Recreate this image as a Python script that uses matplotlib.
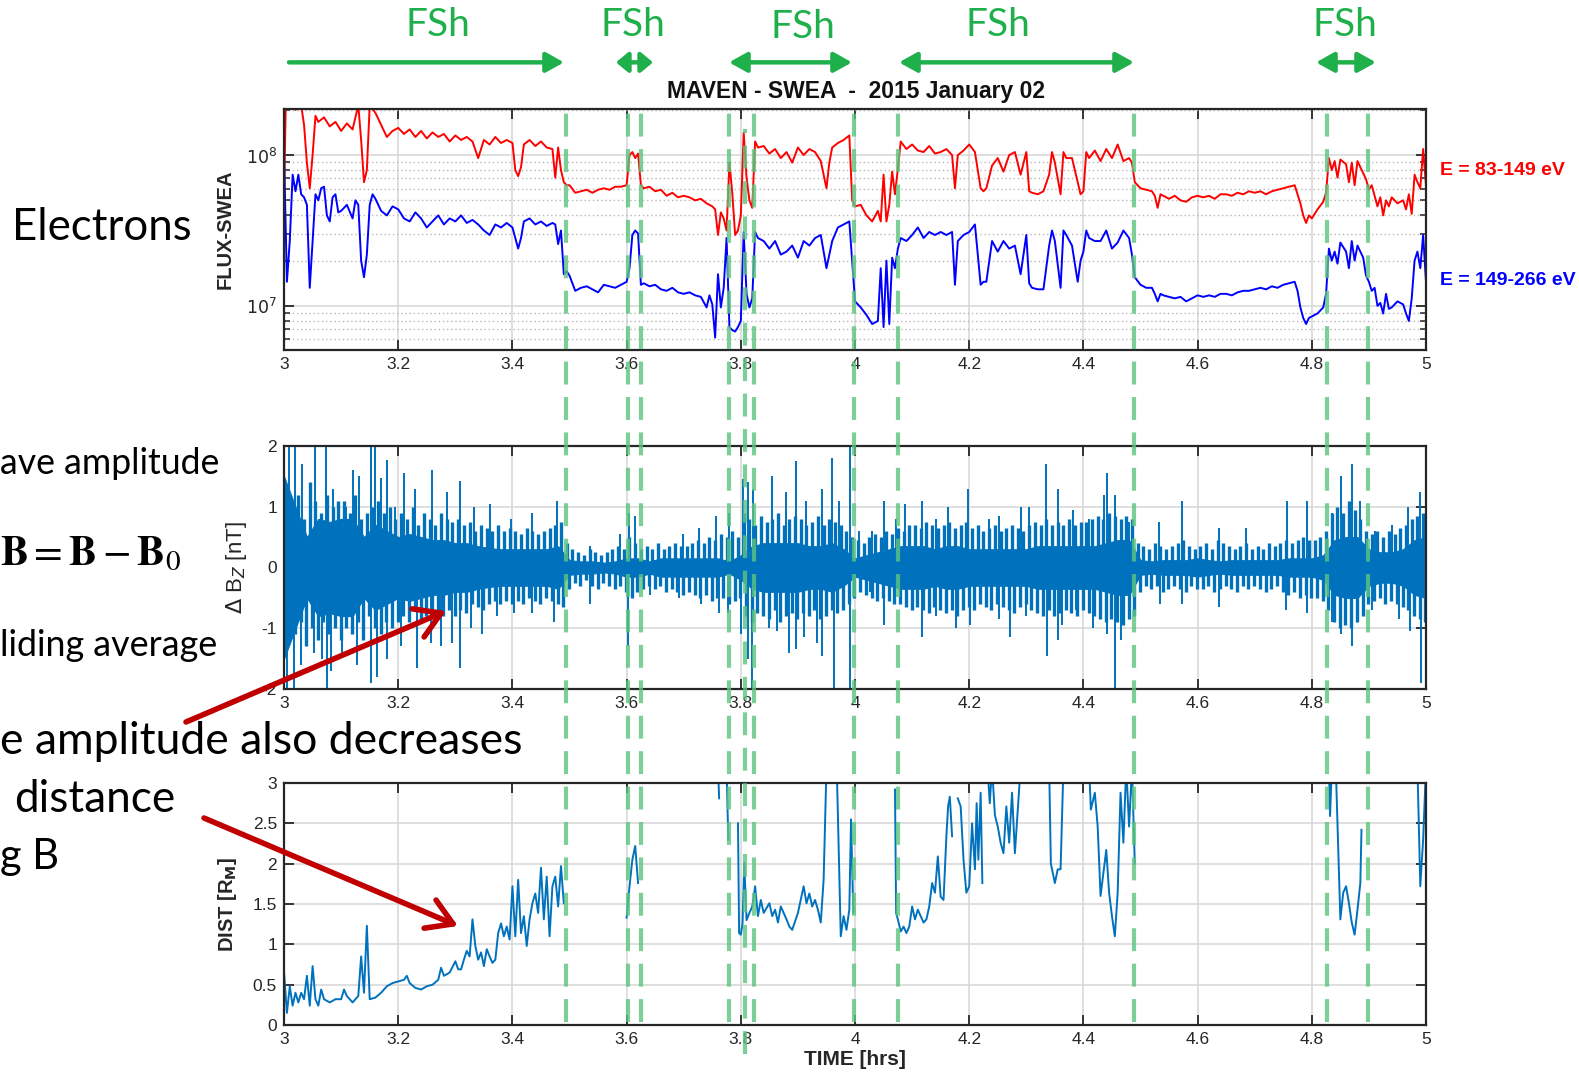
import matplotlib
matplotlib.use('Agg')
import matplotlib.pyplot as plt
import matplotlib.transforms as mtransforms
from matplotlib.lines import Line2D
from matplotlib.patches import FancyArrowPatch
import numpy as np

plt.rcParams['font.family'] = ['Liberation Sans', 'DejaVu Sans']
plt.rcParams['mathtext.fontset'] = 'dejavusans'
nan = float('nan')

# ---------------- data ----------------
# SWEA flux, log10 values, two energy channels
t_red = [3.000, 3.003, 3.01, 3.02, 3.03, 3.035, 3.04, 3.045, 3.05, 3.055, 3.06, 3.07, 3.08, 3.09,
         3.10, 3.11, 3.12, 3.13, 3.135, 3.14, 3.145, 3.15, 3.16, 3.17, 3.18, 3.19, 3.20, 3.21,
         3.22, 3.23, 3.24, 3.25, 3.26, 3.27, 3.28, 3.29, 3.30, 3.31, 3.32, 3.33, 3.34, 3.35,
         3.36, 3.37, 3.38, 3.39, 3.40, 3.405, 3.41, 3.415, 3.42, 3.43, 3.44, 3.45, 3.46, 3.47,
         3.475, 3.48, 3.485, 3.49, 3.495, 3.50, 3.51, 3.52, 3.53, 3.54, 3.55, 3.56, 3.57, 3.58,
         3.59, 3.60, 3.605, 3.61, 3.615, 3.62, 3.625, 3.63, 3.64, 3.65, 3.66, 3.67, 3.68, 3.69,
         3.70, 3.71, 3.72, 3.73, 3.74, 3.75, 3.755, 3.76, 3.765, 3.77, 3.775, 3.78, 3.785, 3.79,
         3.795, 3.80, 3.805, 3.81, 3.815, 3.82, 3.825, 3.83, 3.84, 3.85, 3.86, 3.87, 3.88, 3.89,
         3.90, 3.91, 3.92, 3.93, 3.94, 3.95, 3.955, 3.96, 3.97, 3.98, 3.99, 3.995, 4.00, 4.01,
         4.02, 4.03, 4.04, 4.045, 4.05, 4.055, 4.06, 4.065, 4.07, 4.075, 4.08, 4.09, 4.10, 4.11,
         4.12, 4.13, 4.14, 4.15, 4.16, 4.17, 4.175, 4.18, 4.19, 4.20, 4.21, 4.22, 4.225, 4.23,
         4.24, 4.25, 4.26, 4.27, 4.28, 4.29, 4.30, 4.305, 4.31, 4.32, 4.33, 4.34, 4.345, 4.35,
         4.36, 4.365, 4.37, 4.38, 4.39, 4.395, 4.40, 4.405, 4.41, 4.42, 4.43, 4.44, 4.45, 4.46,
         4.47, 4.48, 4.485, 4.49, 4.50, 4.51, 4.52, 4.525, 4.53, 4.535, 4.54, 4.55, 4.56, 4.57,
         4.58, 4.59, 4.60, 4.61, 4.62, 4.63, 4.64, 4.65, 4.66, 4.67, 4.68, 4.69, 4.70, 4.71,
         4.72, 4.73, 4.74, 4.75, 4.76, 4.77, 4.775, 4.78, 4.785, 4.79, 4.795, 4.80, 4.81, 4.82,
         4.825, 4.83, 4.835, 4.84, 4.845, 4.85, 4.86, 4.865, 4.87, 4.875, 4.88, 4.89, 4.895, 4.90,
         4.905, 4.91, 4.915, 4.92, 4.925, 4.93, 4.935, 4.94, 4.95, 4.96, 4.965, 4.97, 4.975, 4.98,
         4.985, 4.99, 4.995, 5.00]
lf_red = [7.74, 8.33, 8.34, 8.30, 8.33, 8.20, 7.95, 7.78, 8.00, 8.26, 8.22, 8.25, 8.19, 8.22,
          8.16, 8.21, 8.17, 8.33, 8.10, 7.82, 7.90, 8.33, 8.28, 8.20, 8.12, 8.16, 8.18, 8.14,
          8.17, 8.12, 8.16, 8.11, 8.15, 8.12, 8.14, 8.09, 8.13, 8.10, 8.12, 8.09, 7.98, 8.10,
          8.07, 8.12, 8.08, 8.10, 8.08, 7.90, 7.86, 7.92, 8.07, 8.10, 8.06, 8.09, 8.05, 8.04,
          7.85, 8.05, 7.90, 7.82, 7.80, 7.80, 7.75, 7.76, 7.77, 7.75, 7.77, 7.78, 7.77, 7.79,
          7.79, 7.80, 8.00, 8.02, 7.98, 8.01, 7.80, 7.78, 7.79, 7.76, 7.77, 7.73, 7.75, 7.72,
          7.73, 7.72, 7.70, 7.71, 7.68, 7.66, 7.64, 7.47, 7.62, 7.58, 7.50, 7.95, 7.75, 7.47,
          7.50, 7.60, 8.15, 7.85, 7.70, 7.65, 8.09, 8.05, 8.06, 8.01, 8.04, 7.98, 8.02, 7.95,
          8.05, 8.00, 8.04, 8.02, 7.96, 7.78, 7.95, 8.05, 8.08, 8.10, 8.13, 7.70, 7.66, 7.67,
          7.60, 7.56, 7.63, 7.56, 7.87, 7.56, 7.67, 7.89, 7.74, 7.91, 8.09, 8.04, 8.07, 8.03,
          8.02, 8.06, 8.01, 8.02, 8.04, 8.00, 7.78, 8.00, 8.03, 8.07, 8.02, 7.78, 7.76, 7.78,
          7.93, 7.98, 7.89, 8.00, 8.02, 7.87, 8.02, 7.76, 7.75, 7.74, 7.76, 7.87, 8.02, 7.95,
          7.74, 8.02, 7.98, 7.98, 7.82, 7.74, 7.76, 8.02, 7.98, 8.03, 7.96, 8.04, 7.98, 8.07,
          7.96, 7.98, 7.95, 7.82, 7.78, 7.77, 7.76, 7.73, 7.65, 7.74, 7.73, 7.71, 7.73, 7.70,
          7.69, 7.72, 7.73, 7.72, 7.73, 7.71, 7.74, 7.74, 7.73, 7.75, 7.74, 7.76, 7.75, 7.76,
          7.74, 7.76, 7.77, 7.78, 7.79, 7.80, 7.74, 7.68, 7.60, 7.55, 7.60, 7.58, 7.64, 7.69,
          7.75, 7.98, 7.90, 7.96, 7.85, 7.97, 7.94, 7.82, 7.95, 7.80, 7.96, 7.88, 7.84, 7.77,
          7.80, 7.73, 7.66, 7.72, 7.60, 7.70, 7.66, 7.72, 7.68, 7.70, 7.64, 7.74, 7.61, 7.87,
          7.82, 7.78, 8.04, 7.80]

t_blue = [3.000, 3.005, 3.01, 3.015, 3.02, 3.025, 3.03, 3.035, 3.04, 3.045, 3.05, 3.055, 3.06,
          3.065, 3.07, 3.075, 3.08, 3.085, 3.09, 3.095, 3.10, 3.11, 3.12, 3.125, 3.13, 3.135,
          3.14, 3.145, 3.15, 3.155, 3.16, 3.17, 3.18, 3.19, 3.20, 3.21, 3.22, 3.23, 3.24, 3.25,
          3.26, 3.27, 3.28, 3.29, 3.30, 3.31, 3.32, 3.33, 3.34, 3.35, 3.36, 3.37, 3.38, 3.39,
          3.40, 3.405, 3.41, 3.415, 3.42, 3.43, 3.44, 3.45, 3.46, 3.47, 3.475, 3.48, 3.485, 3.49,
          3.495, 3.50, 3.51, 3.52, 3.53, 3.54, 3.55, 3.56, 3.57, 3.58, 3.59, 3.60, 3.605, 3.61,
          3.615, 3.62, 3.625, 3.63, 3.64, 3.65, 3.66, 3.67, 3.68, 3.69, 3.70, 3.71, 3.72, 3.73,
          3.74, 3.745, 3.75, 3.755, 3.76, 3.765, 3.77, 3.775, 3.78, 3.785, 3.79, 3.795, 3.80,
          3.805, 3.81, 3.815, 3.82, 3.825, 3.83, 3.84, 3.85, 3.86, 3.87, 3.88, 3.89, 3.90, 3.91,
          3.92, 3.93, 3.94, 3.95, 3.96, 3.97, 3.98, 3.99, 3.995, 4.00, 4.01, 4.02, 4.03, 4.04,
          4.045, 4.05, 4.055, 4.06, 4.065, 4.07, 4.075, 4.08, 4.09, 4.10, 4.11, 4.12, 4.13, 4.14,
          4.15, 4.16, 4.17, 4.175, 4.18, 4.19, 4.20, 4.21, 4.22, 4.225, 4.23, 4.24, 4.25, 4.26,
          4.27, 4.28, 4.29, 4.30, 4.305, 4.31, 4.32, 4.33, 4.34, 4.345, 4.35, 4.36, 4.365, 4.37,
          4.38, 4.39, 4.395, 4.40, 4.405, 4.41, 4.42, 4.43, 4.44, 4.45, 4.46, 4.47, 4.48, 4.485,
          4.49, 4.50, 4.51, 4.52, 4.525, 4.53, 4.535, 4.54, 4.55, 4.56, 4.57, 4.58, 4.59, 4.60,
          4.61, 4.62, 4.63, 4.64, 4.65, 4.66, 4.67, 4.68, 4.69, 4.70, 4.71, 4.72, 4.73, 4.74,
          4.75, 4.76, 4.77, 4.775, 4.78, 4.785, 4.79, 4.795, 4.80, 4.81, 4.82, 4.825, 4.83, 4.835,
          4.84, 4.845, 4.85, 4.86, 4.865, 4.87, 4.875, 4.88, 4.89, 4.895, 4.90, 4.905, 4.91,
          4.915, 4.92, 4.925, 4.93, 4.935, 4.94, 4.95, 4.96, 4.965, 4.97, 4.975, 4.98, 4.985,
          4.99, 4.995, 5.00]
lf_blue = [8.00, 7.16, 7.43, 7.87, 7.76, 7.87, 7.74, 7.72, 7.67, 7.12, 7.43, 7.74, 7.70,
           7.78, 7.79, 7.60, 7.56, 7.72, 7.74, 7.62, 7.63, 7.67, 7.58, 7.70, 7.67, 7.30,
           7.19, 7.34, 7.67, 7.74, 7.71, 7.63, 7.60, 7.66, 7.64, 7.58, 7.56, 7.62, 7.58, 7.52,
           7.56, 7.60, 7.54, 7.58, 7.56, 7.60, 7.55, 7.57, 7.54, 7.50, 7.47, 7.54, 7.52, 7.55,
           7.52, 7.45, 7.38, 7.45, 7.56, 7.58, 7.54, 7.56, 7.53, 7.55, 7.54, 7.41, 7.50, 7.21,
           7.23, 7.20, 7.10, 7.12, 7.13, 7.11, 7.09, 7.14, 7.13, 7.12, 7.14, 7.16, 7.25, 7.47,
           7.50, 7.48, 7.14, 7.15, 7.13, 7.14, 7.11, 7.10, 7.12, 7.09, 7.08, 7.09, 7.07, 7.06,
           6.99, 7.07, 7.01, 6.79, 7.21, 6.99, 7.12, 7.45, 6.86, 6.84, 6.83, 6.86, 6.90,
           7.49, 7.08, 6.99, 7.05, 7.49, 7.45, 7.43, 7.38, 7.43, 7.34, 7.36, 7.40, 7.32, 7.43,
           7.40, 7.45, 7.47, 7.25, 7.43, 7.52, 7.54, 7.56, 7.30, 7.03, 6.99, 6.94, 6.88, 6.90,
           7.25, 6.86, 7.30, 6.88, 7.32, 7.25, 7.38, 7.45, 7.43, 7.47, 7.52, 7.45, 7.49, 7.47,
           7.49, 7.47, 7.49, 7.14, 7.43, 7.47, 7.49, 7.54, 7.14, 7.16, 7.16, 7.43, 7.36, 7.43,
           7.38, 7.40, 7.21, 7.47, 7.15, 7.12, 7.11, 7.11, 7.40, 7.50, 7.43, 7.12, 7.50, 7.47,
           7.40, 7.16, 7.30, 7.36, 7.50, 7.45, 7.43, 7.43, 7.50, 7.38, 7.42, 7.50, 7.45, 7.34,
           7.19, 7.14, 7.12, 7.12, 7.08, 7.03, 7.08, 7.07, 7.06, 7.05, 7.06, 7.03, 7.05, 7.07,
           7.06, 7.07, 7.06, 7.08, 7.08, 7.07, 7.09, 7.10, 7.10, 7.11, 7.12, 7.11, 7.13, 7.12,
           7.14, 7.15, 7.16, 7.10, 6.99, 6.92, 6.88, 6.92, 6.93, 6.95, 6.99, 7.08, 7.38, 7.30,
           7.36, 7.28, 7.42, 7.36, 7.25, 7.43, 7.30, 7.40, 7.32, 7.20, 7.16, 7.10, 7.12,
           7.00, 7.02, 6.95, 7.08, 6.98, 6.99, 7.03, 7.01, 6.95, 6.90, 7.05, 7.30, 7.36,
           7.25, 7.47, 7.16]

# Delta Bz [nT]: half width of the dense core, medium spikes every 0.01 h, and the tall spikes
t_core = [3.00, 3.02, 3.04, 3.06, 3.08, 3.10, 3.12, 3.14, 3.16, 3.18, 3.20, 3.22, 3.24, 3.26,
          3.28, 3.30, 3.32, 3.34, 3.36, 3.38, 3.40, 3.42, 3.44, 3.46, 3.48, 3.50, 3.52, 3.54,
          3.56, 3.58, 3.60, 3.62, 3.64, 3.66, 3.68, 3.70, 3.72, 3.74, 3.76, 3.78, 3.80, 3.82,
          3.84, 3.86, 3.88, 3.90, 3.92, 3.94, 3.96, 3.98, 4.00, 4.02, 4.04, 4.06, 4.08, 4.10,
          4.12, 4.14, 4.16, 4.18, 4.20, 4.22, 4.24, 4.26, 4.28, 4.30, 4.32, 4.34, 4.36, 4.38,
          4.40, 4.42, 4.44, 4.46, 4.48, 4.50, 4.52, 4.54, 4.56, 4.58, 4.60, 4.62, 4.64, 4.66,
          4.68, 4.70, 4.72, 4.74, 4.76, 4.78, 4.80, 4.82, 4.84, 4.86, 4.88, 4.90, 4.92, 4.94,
          4.96, 4.98, 5.00]
core_half = [1.5, 1.0, 0.5, 0.8, 0.75, 0.8, 0.8, 0.5, 0.7, 0.6, 0.5, 0.55, 0.5, 0.45,
             0.45, 0.4, 0.4, 0.35, 0.32, 0.3, 0.3, 0.3, 0.3, 0.3, 0.35, 0.12, 0.1, 0.1,
             0.08, 0.1, 0.15, 0.15, 0.1, 0.15, 0.15, 0.15, 0.15, 0.15, 0.15, 0.1, 0.2, 0.35,
             0.4, 0.4, 0.4, 0.4, 0.35, 0.35, 0.4, 0.3, 0.15, 0.2, 0.25, 0.3, 0.35, 0.35,
             0.35, 0.3, 0.35, 0.35, 0.3, 0.3, 0.3, 0.3, 0.3, 0.3, 0.35, 0.35, 0.35, 0.35,
             0.35, 0.35, 0.4, 0.45, 0.45, 0.12, 0.1, 0.12, 0.12, 0.12, 0.15, 0.12, 0.1, 0.12,
             0.12, 0.12, 0.12, 0.12, 0.15, 0.15, 0.15, 0.2, 0.45, 0.5, 0.5, 0.3, 0.25, 0.25,
             0.3, 0.45, 0.5]
mid_up = [1.3, 1.0, 1.2, 0.8, 1.4, 1.1, 0.9, 1.2, 1.0, 1.1,
          1.1, 0.9, 1.2, 0.8, 0.9, 1.0, 1.1, 0.9, 1.0, 0.8,
          0.9, 0.8, 1.0, 0.7, 0.9, 0.8, 0.7, 0.9, 0.8, 0.75,
          0.8, 0.7, 0.75, 0.6, 0.7, 0.65, 0.6, 0.7, 0.6, 0.65,
          0.6, 0.55, 0.65, 0.6, 0.55, 0.6, 0.65, 0.7, 0.75, 0.4,
          0.3, 0.25, 0.2, 0.3, 0.25, 0.2, 0.25, 0.3, 0.35, 0.3,
          0.5, 0.4, 0.3, 0.35, 0.3, 0.4, 0.3, 0.35, 0.4, 0.35,
          0.35, 0.4, 0.45, 0.4, 0.5, 0.45, 0.55, 0.5, 0.6, 0.5,
          0.9, 0.8, 0.7, 0.85, 0.75, 0.8, 0.9, 0.7, 0.8, 0.85,
          0.8, 0.7, 0.75, 0.85, 0.7, 0.8, 0.75, 0.7, 0.6, 0.5,
          0.45, 0.4, 0.5, 0.55, 0.5, 0.6, 0.55, 0.65, 0.6, 0.7,
          0.7, 0.65, 0.75, 0.7, 0.65, 0.7, 0.75, 0.65, 0.7, 0.75,
          0.65, 0.7, 0.6, 0.65, 0.7, 0.6, 0.65, 0.7, 0.65, 0.6,
          0.7, 0.75, 0.7, 0.8, 0.7, 0.75, 0.7, 0.8, 0.7, 0.75,
          0.75, 0.8, 0.85, 0.8, 0.9, 0.85, 0.8, 0.85, 0.8, 0.4,
          0.35, 0.3, 0.4, 0.35, 0.3, 0.35, 0.4, 0.45, 0.35, 0.3,
          0.35, 0.4, 0.3, 0.45, 0.4, 0.35, 0.3, 0.35, 0.4, 0.3,
          0.35, 0.3, 0.4, 0.35, 0.4, 0.45, 0.4, 0.45, 0.5, 0.45,
          0.45, 0.5, 0.6, 0.9, 1.0, 0.9, 1.1, 0.95, 0.8, 0.6,
          0.55, 0.6, 0.5, 0.6, 0.55, 0.65, 0.7, 0.8, 0.85, 0.9]
mid_dn = [-1.2, -1.1, -0.9, -1.3, -1.0, -1.2, -0.9, -1.1, -1.0, -1.2,
          -1.0, -1.1, -0.9, -1.2, -0.8, -1.0, -1.1, -0.9, -1.0, -0.9,
          -0.8, -0.9, -0.7, -0.9, -0.8, -0.7, -0.85, -0.8, -0.7, -0.8,
          -0.7, -0.75, -0.6, -0.65, -0.7, -0.6, -0.55, -0.6, -0.55, -0.6,
          -0.55, -0.6, -0.5, -0.55, -0.6, -0.5, -0.55, -0.6, -0.65, -0.35,
          -0.25, -0.3, -0.2, -0.3, -0.35, -0.25, -0.3, -0.35, -0.3, -0.4,
          -0.5, -0.4, -0.35, -0.3, -0.35, -0.3, -0.4, -0.35, -0.4, -0.45,
          -0.4, -0.45, -0.5, -0.45, -0.55, -0.5, -0.5, -0.6, -0.55, -0.5,
          -0.8, -0.9, -0.75, -0.8, -0.85, -0.7, -0.9, -0.8, -0.75, -0.85,
          -0.75, -0.8, -0.7, -0.85, -0.8, -0.7, -0.75, -0.7, -0.6, -0.5,
          -0.4, -0.45, -0.5, -0.55, -0.5, -0.55, -0.6, -0.6, -0.65, -0.7,
          -0.65, -0.7, -0.75, -0.65, -0.7, -0.75, -0.7, -0.8, -0.7, -0.65,
          -0.7, -0.6, -0.65, -0.7, -0.6, -0.65, -0.7, -0.75, -0.65, -0.6,
          -0.7, -0.75, -0.8, -0.7, -0.8, -0.75, -0.7, -0.75, -0.8, -0.7,
          -0.75, -0.8, -0.85, -0.9, -0.85, -0.9, -0.95, -0.85, -0.8, -0.4,
          -0.3, -0.35, -0.3, -0.4, -0.35, -0.3, -0.35, -0.4, -0.3, -0.35,
          -0.35, -0.3, -0.4, -0.35, -0.3, -0.35, -0.4, -0.3, -0.35, -0.3,
          -0.35, -0.4, -0.35, -0.3, -0.4, -0.45, -0.4, -0.5, -0.45, -0.5,
          -0.5, -0.55, -0.7, -0.9, -1.0, -0.95, -1.0, -0.9, -0.8, -0.6,
          -0.55, -0.5, -0.6, -0.55, -0.6, -0.65, -0.7, -0.8, -0.85, -0.9]
t_up = [3.009, 3.02, 3.032, 3.055, 3.073, 3.085, 3.108, 3.12, 3.131, 3.152, 3.16, 3.169, 3.181,
        3.195, 3.21, 3.23, 3.259, 3.286, 3.309, 3.332, 3.361, 3.397, 3.434, 3.478, 3.536, 3.589,
        3.604, 3.615, 3.698, 3.727, 3.756, 3.78, 3.803, 3.812, 3.822, 3.855, 3.879, 3.896, 3.914,
        3.943, 3.959, 3.972, 3.991, 4.007, 4.03, 4.051, 4.071, 4.087, 4.118, 4.141, 4.162, 4.197,
        4.234, 4.252, 4.29, 4.304, 4.335, 4.355, 4.381, 4.41, 4.436, 4.442, 4.456, 4.48, 4.532,
        4.572, 4.637, 4.684, 4.756, 4.791, 4.835, 4.852, 4.87, 4.885, 4.911, 4.94, 4.969, 4.989]
v_up = [2.2, 2.2, 1.7, 2.2, 2.2, 1.3, 1.0, 1.6, 1.5, 2.2, 2.2, 1.47, 1.77,
        1.0, 1.55, 1.3, 1.6, 1.25, 1.42, 1.0, 1.05, 0.8, 0.9, 1.1, 0.35, 0.55,
        0.9, 0.85, 0.55, 0.65, 0.85, 0.9, 1.45, 1.4, 1.3, 1.5, 1.25, 1.75, 1.1,
        1.3, 1.8, 1.1, 2.0, 0.6, 0.6, 1.1, 0.8, 1.05, 1.1, 0.8, 1.0, 1.3,
        0.8, 0.85, 1.0, 1.0, 1.7, 1.3, 0.95, 0.8, 1.2, 1.55, 1.2, 0.75, 0.75,
        1.1, 0.65, 0.65, 1.1, 1.1, 0.9, 1.5, 1.7, 1.1, 0.6, 0.7, 1.0, 1.25]
t_dn = [3.006, 3.017, 3.029, 3.052, 3.067, 3.076, 3.082, 3.102, 3.128, 3.152, 3.163, 3.181, 3.204,
        3.233, 3.257, 3.274, 3.295, 3.309, 3.327, 3.347, 3.373, 3.402, 3.434, 3.472, 3.536, 3.603,
        3.641, 3.692, 3.73, 3.762, 3.777, 3.8, 3.812, 3.82, 3.85, 3.864, 3.885, 3.896, 3.911,
        3.934, 3.943, 3.963, 3.992, 4.027, 4.051, 4.118, 4.141, 4.176, 4.202, 4.252, 4.272, 4.299,
        4.336, 4.355, 4.363, 4.387, 4.416, 4.442, 4.456, 4.465, 4.535, 4.573, 4.637, 4.754, 4.791,
        4.835, 4.852, 4.87, 4.905, 4.952, 4.972, 4.992]
v_dn = [-2.2, -2.2, -1.6, -1.4, -1.5, -2.2, -1.7, -1.4, -1.6, -1.9, -1.8, -1.5, -1.3,
        -1.65, -1.25, -1.3, -1.25, -1.65, -1.0, -1.1, -0.8, -0.75, -0.75, -0.9, -0.6, -1.3,
        -0.45, -0.5, -0.6, -0.75, -0.75, -1.1, -1.5, -2.2, -1.0, -1.05, -1.4, -1.35, -1.15,
        -1.25, -1.45, -2.2, -2.2, -0.4, -0.95, -1.15, -0.8, -1.0, -0.95, -0.85, -1.15, -0.8,
        -1.45, -1.2, -0.95, -0.7, -1.0, -1.1, -2.2, -1.2, -0.6, -0.6, -0.65, -0.7, -0.75,
        -0.9, -1.1, -1.3, -0.7, -0.85, -1.05, -1.9]

# distance [R_M]; nan = no value
t_dist = [3.000, 3.005, 3.010, 3.015, 3.020, 3.025, 3.030, 3.035, 3.040, 3.045, 3.050, 3.055,
          3.060, 3.065, 3.070, 3.080, 3.090, 3.100, 3.105, 3.110, 3.120, 3.130, 3.135, 3.140,
          3.145, 3.150, 3.160, 3.170, 3.180, 3.190, 3.200, 3.210, 3.215, 3.220, 3.230, 3.240,
          3.250, 3.260, 3.270, 3.275, 3.280, 3.290, 3.300, 3.305, 3.310, 3.315, 3.320, 3.325,
          3.330, 3.335, 3.340, 3.345, 3.350, 3.355, 3.360, 3.365, 3.370, 3.375, 3.380, 3.385,
          3.390, 3.395, 3.400, 3.405, 3.410, 3.415, 3.420, 3.425, 3.430, 3.435, 3.440, 3.445,
          3.450, 3.455, 3.460, 3.465, 3.470, 3.475, 3.480, 3.485, 3.490, 3.491,
          3.600, 3.605, 3.610, 3.615, 3.620, 3.621,
          3.760, 3.762, 3.763, 3.775, 3.778, 3.779,
          3.795, 3.797, 3.800, 3.803, 3.806, 3.810, 3.815, 3.820, 3.825, 3.830, 3.835, 3.840,
          3.850, 3.855, 3.860, 3.865, 3.870, 3.875, 3.880, 3.885, 3.890, 3.900, 3.910, 3.915,
          3.920, 3.925, 3.930, 3.935, 3.940, 3.945, 3.950, 3.951,
          3.968, 3.975, 3.980, 3.985, 3.990, 3.993, 3.997, 3.998,
          4.070, 4.072, 4.075, 4.080, 4.085, 4.090, 4.095, 4.100, 4.105, 4.110, 4.115, 4.120,
          4.125, 4.130, 4.135, 4.140, 4.145, 4.150, 4.155, 4.160, 4.163, 4.166, 4.170, 4.171,
          4.180, 4.185, 4.190, 4.195, 4.200, 4.205, 4.210, 4.213, 4.216, 4.220, 4.223, 4.224,
          4.232, 4.236, 4.240, 4.245, 4.250, 4.255, 4.260, 4.265, 4.270, 4.275, 4.280, 4.285,
          4.290, 4.291,
          4.340, 4.343, 4.350, 4.355, 4.360, 4.365, 4.366,
          4.410, 4.413, 4.420, 4.425, 4.430, 4.435, 4.440, 4.445, 4.450, 4.455, 4.460, 4.465,
          4.470, 4.475, 4.480, 4.485, 4.490, 4.491,
          4.830, 4.832, 4.835, 4.836,
          4.842, 4.850, 4.855, 4.860, 4.865, 4.870, 4.875, 4.880, 4.885, 4.887, 4.888,
          4.985, 4.990, 4.995, 5.000]
dist = [0.65, 0.15, 0.48, 0.24, 0.40, 0.28, 0.40, 0.32, 0.61, 0.24, 0.73, 0.32,
        0.24, 0.44, 0.32, 0.28, 0.32, 0.32, 0.44, 0.36, 0.28, 0.36, 0.85, 0.40,
        1.23, 0.32, 0.34, 0.40, 0.48, 0.52, 0.54, 0.56, 0.61, 0.52, 0.46, 0.44,
        0.48, 0.50, 0.56, 0.71, 0.61, 0.65, 0.79, 0.69, 0.69, 0.81, 0.92, 0.85,
        1.31, 0.98, 0.81, 0.90, 0.73, 0.94, 0.85, 0.77, 0.81, 1.14, 1.26, 1.10,
        1.22, 1.06, 1.72, 1.10, 1.80, 1.14, 1.35, 0.98, 1.31, 1.51, 1.63, 1.39,
        1.95, 1.31, 1.84, 1.10, 1.72, 1.84, 1.47, 1.97, 1.51, nan,
        1.33, 1.72, 2.05, 2.22, 1.76, nan,
        3.2, 2.81, nan, 3.2, 2.30, nan,
        2.50, 1.14, 1.12, 1.26, 2.01, 1.30, 1.39, 1.47, 1.72, 1.35, 1.55, 1.39,
        1.51, 1.35, 1.43, 1.27, 1.47, 1.39, 1.31, 1.22, 1.18, 1.39, 1.72, 1.51,
        1.63, 1.47, 1.55, 1.43, 1.27, 1.80, 3.2, nan,
        3.2, 1.10, 1.35, 1.18, 1.43, 2.55, 1.39, nan,
        2.92, 1.39, 1.31, 1.16, 1.22, 1.14, 1.22, 1.47, 1.31, 1.43, 1.35, 1.27,
        1.31, 1.47, 1.76, 1.64, 2.09, 1.59, 1.55, 2.34, 2.71, 2.83, 2.34, nan,
        2.81, 2.71, 2.05, 1.64, 1.72, 2.50, 1.93, 2.75, 2.05, 2.88, 1.76, nan,
        3.2, 2.75, 3.2, 2.60, 2.46, 2.26, 2.13, 2.71, 2.26, 2.88, 2.13, 2.67,
        3.2, nan,
        3.2, 2.00, 1.76, 1.93, 1.93, 3.2, nan,
        3.2, 2.67, 2.88, 2.46, 1.60, 1.89, 2.17, 1.64, 1.35, 1.10, 1.64, 2.88,
        2.26, 3.2, 2.46, 3.2, 2.00, nan,
        3.2, 2.59, 3.2, nan,
        3.2, 1.31, 1.64, 1.72, 1.51, 1.27, 1.12, 1.43, 1.76, 2.42, nan,
        3.2, 1.72, 2.30, 3.2]

# foreshock boundaries [hrs]
fsh_bounds = [3.494, 3.602, 3.626, 3.780, 3.807, 3.823, 3.998, 4.076, 4.489, 4.827, 4.899]

xticks = [3, 3.2, 3.4, 3.6, 3.8, 4, 4.2, 4.4, 4.6, 4.8, 5]
xtick_labels = ['3', '3.2', '3.4', '3.6', '3.8', '4', '4.2', '4.4', '4.6', '4.8', '5']

# ---------------- figure ----------------
fig = plt.figure(figsize=(15.79, 10.75), dpi=100)
ax1 = fig.add_axes([0.1799, 0.6744, 0.7232, 0.2242])
ax2 = fig.add_axes([0.1799, 0.3591, 0.7232, 0.2260])
ax3 = fig.add_axes([0.1799, 0.0465, 0.7232, 0.2251])

axcol = '#262626'
for ax in (ax1, ax2, ax3):
    ax.set_xlim(3, 5)
    ax.set_xticks(xticks)
    ax.set_xticklabels(xtick_labels)
    ax.tick_params(which='major', direction='in', top=True, right=True, length=7, width=1.3,
                   labelsize=12.5, colors=axcol, pad=5)
    ax.grid(True, which='major', color='#d6d6d6', lw=1.1)
    ax.set_axisbelow(True)
    for s in ax.spines.values():
        s.set_linewidth(1.6)
        s.set_color(axcol)

# top: flux
ax1.set_yscale('log')
ax1.plot(t_red, 10 ** np.array(lf_red), color='#ff0000', lw=1.4)
ax1.plot(t_blue, 10 ** np.array(lf_blue), color='#0000ff', lw=1.4)
ax1.set_ylim(5.1e6, 2.02e8)
ax1.set_yticks([1e7, 1e8])
ax1.set_yticklabels(['$10^{7}$', '$10^{8}$'])
ax1.set_yticks([6e6, 7e6, 8e6, 9e6] + [k * 1e7 for k in range(2, 10)] + [2e8], minor=True)
ax1.yaxis.set_minor_formatter(matplotlib.ticker.NullFormatter())
ax1.tick_params(which='minor', direction='in', right=True, length=4, width=1.1, colors=axcol)
ax1.yaxis.grid(True, which='minor', ls=(0, (1, 2)), color='#b8b8b8', lw=1.0)
ax1.set_ylabel('FLUX-SWEA', fontsize=14.5, fontweight='bold', color=axcol, labelpad=8)

# middle: delta Bz
bcol = '#0072bd'
ax2.fill_between(t_core, -np.array(core_half), core_half, color=bcol, lw=0.8, edgecolor=bcol)
t_mid = np.round(np.linspace(3.005, 4.995, len(mid_up)), 3)
ax2.vlines(t_mid, 0, mid_up, color=bcol, lw=2.4)
ax2.vlines(t_mid + 0.004, 0, mid_dn, color=bcol, lw=2.4)
ax2.vlines(t_up, 0, v_up, color=bcol, lw=1.4)
ax2.vlines(t_dn, 0, v_dn, color=bcol, lw=1.4)
ax2.set_ylim(-2, 2)
ax2.set_yticks([-2, -1, 0, 1, 2])
ax2.set_yticklabels(['-2', '-1', '0', '1', '2'])
ax2.set_ylabel('$\\Delta$ B$_{Z}$ [nT]', fontsize=16, color=axcol, labelpad=9)

# bottom: distance
ax3.plot(t_dist, dist, color=bcol, lw=1.4)
ax3.set_ylim(0, 3)
ax3.set_yticks([0, 0.5, 1, 1.5, 2, 2.5, 3])
ax3.set_yticklabels(['0', '0.5', '1', '1.5', '2', '2.5', '3'])
ax3.set_ylabel('DIST [R$_\\mathbf{M}$]', fontsize=14.5, fontweight='bold', color=axcol, labelpad=10)
ax3.set_xlabel('TIME [hrs]', fontsize=15, fontweight='bold', color=axcol, labelpad=2)

# dashed foreshock boundaries across all panels
trans = mtransforms.blended_transform_factory(ax1.transData, fig.transFigure)
for xb in fsh_bounds:
    y0, y1 = (0.049, 0.903) if xb != 3.807 else (0.02, 0.88)
    ln = Line2D([xb, xb], [y0, y1], transform=trans, color='#5cc47f', alpha=0.8, lw=3,
                dashes=(5.5, 3), zorder=5)
    fig.add_artist(ln)

# title and channel labels
fig.text(0.542, 0.915, 'MAVEN - SWEA  -  2015 January 02', ha='center', va='center',
         fontsize=16.5, fontweight='bold', color='#111111')
fig.text(0.912, 0.841, 'E = 83-149 eV', ha='left', va='center', fontsize=14,
         fontweight='bold', color='#ff0000')
fig.text(0.912, 0.739, 'E = 149-266 eV', ha='left', va='center', fontsize=14,
         fontweight='bold', color='#0000ff')

# FSh arrows on top
green = '#1fb04c'
fsh_arrows = [(289, 564, '-|>'), (616, 653, '<|-|>'), (729, 852, '<|-|>'),
              (899, 1134, '<|-|>'), (1316, 1376, '<|-|>')]
for xa, xb, st in fsh_arrows:
    hl = 0.6 if xb - xa < 50 else 0.9
    arr = FancyArrowPatch((xa / 1579, 0.942), (xb / 1579, 0.942), transform=fig.transFigure,
                          arrowstyle=st + ',head_length=%.1f,head_width=0.5' % hl,
                          mutation_scale=12, color=green, lw=3.2, shrinkA=0, shrinkB=0)
    fig.add_artist(arr)
fsh_text_x = [438, 633, 803, 998, 1345]
fsh_text_y = [25, 25, 27, 25, 25]
slide = ['Lato', 'DejaVu Sans']
for xt, yt in zip(fsh_text_x, fsh_text_y):
    fig.text(xt / 1579, 1 - yt / 1075, 'FSh', ha='center', va='center', fontsize=28,
             family=slide, color=green)

# slide annotations on the left
fig.text(12 / 1579, 1 - 227 / 1075, 'Electrons', ha='left', va='center', fontsize=31.5,
         family=slide, color='black')
fig.text(0.0, 1 - 463 / 1075, 'ave amplitude', ha='left', va='center', fontsize=25.7,
         family=slide, color='black')
fig.text(0.0, 1 - 554 / 1075, '$\\mathbf{B}=\\mathbf{B}-\\mathbf{B}_{0}$', ha='left',
         va='center', fontsize=30, math_fontfamily='stix', color='black')
fig.text(0.0, 1 - 645 / 1075, 'liding average', ha='left', va='center', fontsize=25.8,
         family=slide, color='black')
fig.text(0.0, 1 - 742 / 1075, 'e amplitude also decreases', ha='left', va='center',
         fontsize=32, family=slide, color='black')
fig.text(14 / 1579, 1 - 799 / 1075, 'distance', ha='left', va='center', fontsize=31.8,
         family=slide, color='black')
fig.text(0.0, 1 - 857 / 1075, 'g B', ha='left', va='center', fontsize=30,
         family=slide, color='black')

# red arrows
red = '#c00000'
for (xa, ya), (xb, yb) in [((186, 722), (446, 611)), ((204, 818), (458, 926))]:
    arr = FancyArrowPatch((xa / 1579, 1 - ya / 1075), (xb / 1579, 1 - yb / 1075),
                          transform=fig.transFigure,
                          arrowstyle='->,head_length=0.9,head_width=0.55', mutation_scale=20,
                          color=red, lw=4, shrinkA=0, shrinkB=0, zorder=6)
    fig.add_artist(arr)

fig.savefig('out.png', dpi=100)
